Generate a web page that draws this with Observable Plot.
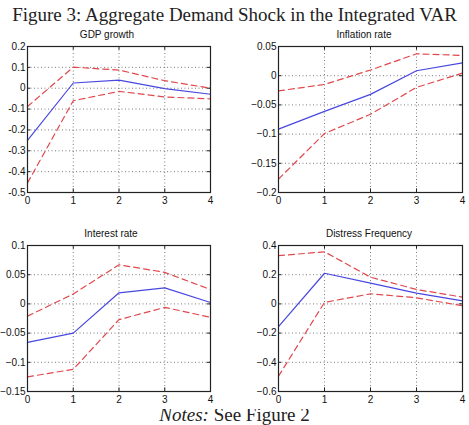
<!DOCTYPE html>
<html>
<head>
<meta charset="utf-8">
<script src="https://cdn.jsdelivr.net/npm/d3@7"></script>
<script src="https://cdn.jsdelivr.net/npm/@observablehq/plot@0.6"></script>
<style>
  html, body { margin: 0; padding: 0; background: #fff; }
  #page { position: relative; width: 469px; height: 425px; overflow: hidden; }
  .heading { position: absolute; left: 0; width: 469px; text-align: center; top: 4px;
             font-family: "Liberation Serif", serif; font-size: 19px; color: #222; white-space: nowrap; }
  .ptitle { position: absolute; font-family: "Liberation Sans", Arial, sans-serif; font-size: 10px;
            color: #111; transform: translateX(-50%); white-space: nowrap; }
  .panel { position: absolute; }
  .notes { position: absolute; left: 0; width: 469px; text-align: center; top: 404px;
           font-family: "Liberation Serif", serif; font-size: 19px; color: #222; white-space: nowrap; }
</style>
</head>
<body>
<div id="page">
  <div class="heading">Figure 3: Aggregate Demand Shock in the Integrated VAR</div>
  <div class="notes"><i>Notes:</i> See Figure 2</div>
</div>
<script>
// Horizon (quarters after the shock)
const horizon = [0, 1, 2, 3, 4];

// Panel titles
const titles = ["GDP growth", "Inflation rate", "Interest rate", "Distress Frequency"];

// Median impulse responses
const gdpMedian = [-0.250, 0.025, 0.039, -0.002, -0.029];
const inflMedian = [-0.0915, -0.061, -0.032, 0.0085, 0.022];
const rateMedian = [-0.066, -0.050, 0.019, 0.0275, 0.0024];
const distMedian = [-0.155, 0.210, 0.142, 0.074, 0.021];

// Upper confidence bands
const gdpUpper = [-0.088, 0.101, 0.087, 0.036, 0.000];
const inflUpper = [-0.026, -0.015, 0.0097, 0.0375, 0.0347];
const rateUpper = [-0.021, 0.017, 0.067, 0.054, 0.0247];
const distUpper = [0.330, 0.357, 0.183, 0.099, 0.046];

// Lower confidence bands
const gdpLower = [-0.454, -0.060, -0.015, -0.042, -0.051];
const inflLower = [-0.177, -0.099, -0.066, -0.020, 0.0045];
const rateLower = [-0.125, -0.112, -0.027, -0.006, -0.023];
const distLower = [-0.495, 0.010, 0.069, 0.042, -0.013];

// Y tick values for each panel
const gdpTicks = [-0.5, -0.4, -0.3, -0.2, -0.1, 0, 0.1, 0.2];
const inflTicks = [-0.2, -0.15, -0.1, -0.05, 0, 0.05];
const rateTicks = [-0.15, -0.1, -0.05, 0, 0.05, 0.1];
const distTicks = [-0.6, -0.4, -0.2, 0, 0.2, 0.4];

const panels = [
  {title: titles[0], med: gdpMedian, up: gdpUpper, lo: gdpLower, ticks: gdpTicks, minus: "-",
   left: 0, top: 40, width: 230, ml: 27, mr: 20, tx: 107},
  {title: titles[1], med: inflMedian, up: inflUpper, lo: inflLower, ticks: inflTicks, minus: "\u2212",
   left: 235, top: 40, width: 234, ml: 43, mr: 7, tx: 364},
  {title: titles[2], med: rateMedian, up: rateUpper, lo: rateLower, ticks: rateTicks, minus: "\u2212",
   left: 0, top: 239, width: 230, ml: 27, mr: 20, tx: 111},
  {title: titles[3], med: distMedian, up: distUpper, lo: distLower, ticks: distTicks, minus: "\u2212",
   left: 235, top: 239, width: 234, ml: 43, mr: 7, tx: 369}
];

const page = document.getElementById("page");
const blue = "#4848e0";
const red = "#e0484c";

for (const p of panels) {
  const rows = horizon.map((h, i) => ({h, med: p.med[i], up: p.up[i], lo: p.lo[i]}));
  const ydom = [p.ticks[0], p.ticks[p.ticks.length - 1]];
  const span = ydom[1] - ydom[0];
  const fmt = d => (d < 0 ? p.minus : "") + String(+Math.abs(d).toFixed(2));
  const chart = Plot.plot({
    width: p.width,
    height: 170,
    marginLeft: p.ml,
    marginRight: p.mr,
    marginTop: 6,
    marginBottom: 18,
    style: {fontFamily: "Liberation Sans, Arial, sans-serif", fontSize: "10px", color: "#111", background: "white"},
    x: {domain: [0, 4], ticks: horizon, label: null},
    y: {domain: ydom, ticks: p.ticks, label: null},
    marks: [
      Plot.gridX(horizon, {stroke: "#444", strokeOpacity: 0.7, strokeDasharray: "1,2.5"}),
      Plot.gridY(p.ticks, {stroke: "#444", strokeOpacity: 0.7, strokeDasharray: "1,2.5"}),
      Plot.axisX(horizon, {tickSize: 0, tickPadding: 4, tickFormat: d => String(d), label: null}),
      Plot.axisY(p.ticks, {tickSize: 0, tickPadding: 2, tickFormat: fmt, label: null}),
      // short inward tick marks on all four sides of the box
      Plot.ruleX(horizon, {x: d => d, y1: ydom[0], y2: ydom[0] + span * 0.025, stroke: "#222"}),
      Plot.ruleX(horizon, {x: d => d, y1: ydom[1], y2: ydom[1] - span * 0.025, stroke: "#222"}),
      Plot.ruleY(p.ticks, {y: d => d, x1: 0, x2: 0.07, stroke: "#222"}),
      Plot.ruleY(p.ticks, {y: d => d, x1: 4, x2: 3.93, stroke: "#222"}),
      Plot.line(rows, {x: "h", y: "up", stroke: red, strokeWidth: 1.2, strokeDasharray: "6,4"}),
      Plot.line(rows, {x: "h", y: "lo", stroke: red, strokeWidth: 1.2, strokeDasharray: "6,4"}),
      Plot.line(rows, {x: "h", y: "med", stroke: blue, strokeWidth: 1.2}),
      Plot.frame({stroke: "#222", strokeWidth: 1.2})
    ]
  });
  chart.classList.add("panel");
  chart.style.left = p.left + "px";
  chart.style.top = p.top + "px";
  page.appendChild(chart);

  const t = document.createElement("div");
  t.className = "ptitle";
  t.textContent = p.title;
  t.style.left = p.tx + "px";
  t.style.top = (p.top - 11) + "px";
  page.appendChild(t);
}
</script>
</body>
</html>
